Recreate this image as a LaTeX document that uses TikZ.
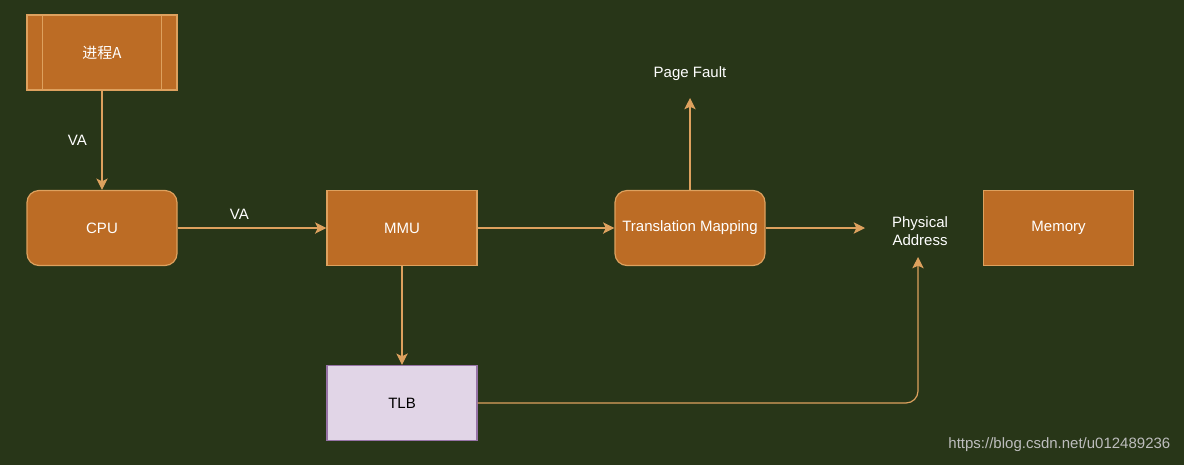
\documentclass[tikz,border=0pt]{standalone}
\usepackage{fontspec}
\setmainfont{Liberation Sans}
\newfontfamily\cjk{Noto Sans CJK SC}
\usepackage{xcolor}
\usetikzlibrary{arrows.meta, positioning, calc}
\definecolor{bgcolor}{HTML}{283618}
\definecolor{boxfill}{HTML}{BC6C25}
\definecolor{boxline}{HTML}{DDA15E}
\definecolor{tlbfill}{HTML}{E1D5E7}
\definecolor{tlbline}{HTML}{9673A6}
\definecolor{marktext}{HTML}{BDBDBD}
\begin{document}
\begin{tikzpicture}[x=0.75pt, y=-0.75pt, font=\fontsize{11.25}{13}\selectfont,
    block/.style={rectangle, draw=boxline, fill=boxfill, line width=0.9pt, text=white, minimum width=112.5pt, minimum height=56.25pt},
    roundblock/.style={block, rounded corners=9pt},
    tlbblock/.style={rectangle, draw=tlbline, fill=tlbfill, line width=0.9pt, text=black, minimum width=112.5pt, minimum height=56.25pt},
    flow/.style={draw=boxline, line width=0.9pt, -{Stealth[length=8.5pt, width=8.5pt, inset=2pt]}},
    label/.style={text=white, align=center}]
    % Background
    \fill[bgcolor] (0,0) rectangle (1184,465);
    \useasboundingbox (0,0) rectangle (1184,465);

    % Boxes
    \node[block] (procA) at (102,52.5) {\cjk 进程A};
    \draw[boxline, line width=0.9pt] ($(procA.north west)+(16,0)$) -- ($(procA.south west)+(16,0)$);
    \draw[boxline, line width=0.9pt] ($(procA.north east)+(-16,0)$) -- ($(procA.south east)+(-16,0)$);
    \node[roundblock] (cpu) at (102,228) {CPU};
    \node[block] (mmu) at (402,228) {MMU};
    \node[roundblock] (trans) at (690,228) {Translation Mapping};
    \node[block] (mem) at (1058.5,228) {Memory};
    \node[tlbblock] (tlb) at (402,403) {TLB};

    % Free labels
    \node[label] (fault) at (690,74) {Page Fault};
    \node[label] (phys) at (920,231) {Physical\\Address};
    \coordinate (faultIn) at (690,98);
    \coordinate (physIn) at (865,228);
    \coordinate (physUp) at (918,257);

    % Connectors
    \draw[flow] (procA) -- (cpu) node[label, pos=0.5, xshift=-18.5pt] (va1) {VA};
    \draw[flow] (cpu) -- (mmu) node[label, pos=0.415, yshift=10pt] (va2) {VA};
    \draw[flow] (mmu) -- (trans);
    \draw[flow] (trans) -- (faultIn);
    \draw[flow] (trans) -- (physIn);
    \draw[flow] (mmu) -- (tlb);
    \draw[flow, rounded corners=9pt] (tlb.east) -| (physUp);

    % Watermark
    \node[text=marktext, anchor=east] (mark) at (1175,445) {https://blog.csdn.net/u012489236};
\end{tikzpicture}
\end{document}
